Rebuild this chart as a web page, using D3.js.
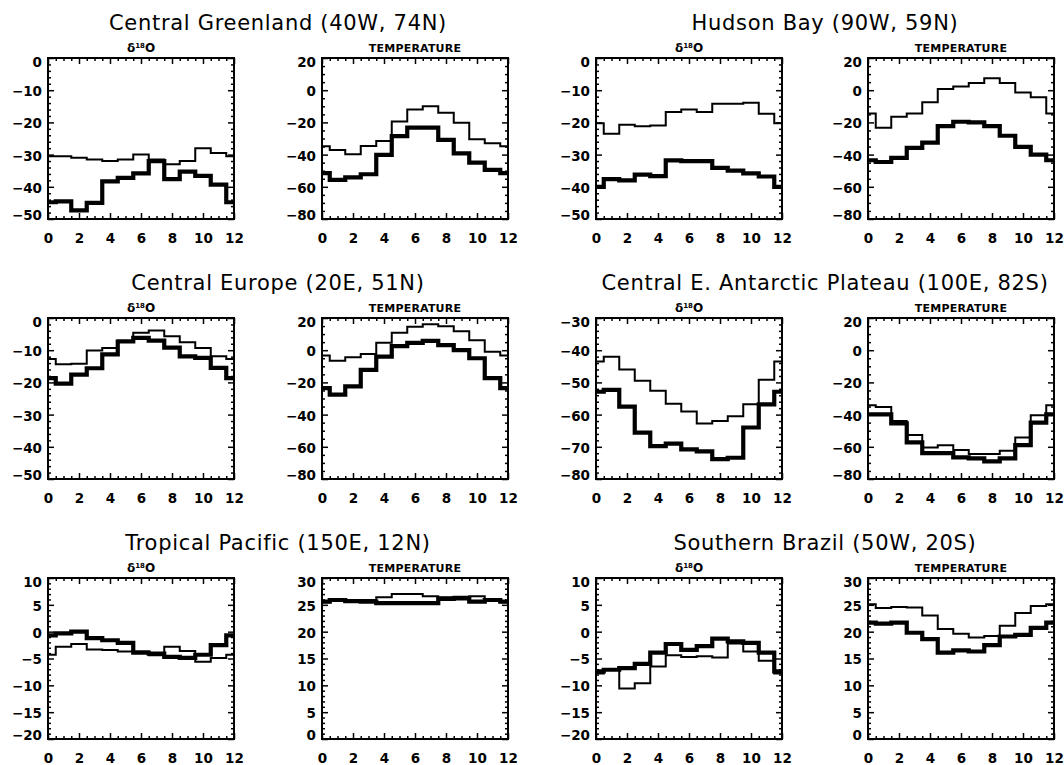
<!DOCTYPE html>
<html>
<head>
<meta charset="utf-8">
<script src="https://cdn.jsdelivr.net/npm/d3@7"></script>
<style>
  body { margin: 0; background: #fff; }
  svg { display: block; }
  .title { font-family: "DejaVu Sans", sans-serif; font-size: 21px; letter-spacing: 0.7px; }
  .sub { font-family: "DejaVu Sans", sans-serif; font-weight: bold; font-size: 11px; }
  .tick text { font-family: "DejaVu Sans", sans-serif; font-weight: bold; font-size: 13.5px; fill: #000; }
  .tick line { stroke: #000; stroke-width: 1.5; }
</style>
</head>
<body>
<svg id="chart" width="1064" height="765"></svg>
<script>
// months: x = 0..12, value at x=0 is December (wraps round)
const xTicks = [0, 2, 4, 6, 8, 10, 12];

const d18oDomainHigh = [-50, 0];
const d18oTicksHigh = [0, -10, -20, -30, -40, -50];
const d18oDomainPolar = [-80, -30];
const d18oTicksPolar = [-30, -40, -50, -60, -70, -80];
const d18oDomainLow = [-20, 10];
const d18oTicksLow = [10, 5, 0, -5, -10, -15, -20];
const tempDomainCold = [-80, 20];
const tempTicksCold = [20, 0, -20, -40, -60, -80];
const tempDomainWarm = [0, 30];
const tempTicksWarm = [30, 25, 20, 15, 10, 5, 0];

// monthly values Jan..Dec, thin and thick curves
const greenlandD18oThin = [-30.5, -31, -31.5, -32, -31.5, -30, -31.5, -33, -32, -28, -29.5, -30.5];
const greenlandD18oThick = [-44.5, -47.3, -45, -38.3, -37.2, -35.8, -32, -37.6, -35.3, -36.6, -39.3, -44.8];
const greenlandTempThin = [-37.1, -39.8, -34.6, -31.5, -19.4, -12, -9.9, -14, -20.2, -30.5, -33, -34.8];
const greenlandTempThick = [-55.7, -54.2, -52.2, -40.2, -28.5, -23.3, -23.3, -30.9, -39.2, -45, -49.5, -51.5];

const hudsonD18oThin = [-23.5, -20.7, -21.2, -21, -16.8, -16, -16.8, -14.2, -14.2, -13.9, -17.3, -20.3];
const hudsonD18oThick = [-37.6, -38, -36.2, -36.7, -31.8, -32, -32, -34.1, -35, -35.8, -36.8, -40];
const hudsonTempThin = [-23.3, -16.5, -14.4, -7.5, 0.8, 2.3, 4.4, 7.5, 4.4, -1.5, -4.4, -14.4];
const hudsonTempThick = [-44.6, -42, -35.8, -32.5, -22.3, -19.6, -20, -22.3, -28.3, -35.2, -40, -43.5];

const europeD18oThin = [-14.4, -14.2, -10.1, -9.3, -7, -4.6, -3.9, -5.7, -7.5, -9.3, -11.9, -12.7];
const europeD18oThick = [-20.4, -17.6, -15.6, -11.3, -7.3, -6.2, -7, -9.2, -11.9, -12.4, -15.5, -18.7];
const europeTempThin = [-6.5, -4.4, -2.4, 4.6, 10.8, 14.5, 16.1, 14.9, 11.8, 6.2, -0.9, -3.3];
const europeTempThick = [-27.6, -22.5, -12.2, -4, 2.5, 4.6, 5.8, 3.2, 0, -5, -17.4, -23.5];

const antarcticD18oThin = [-42, -46, -49.5, -52.6, -56.6, -59, -62.8, -62, -60.5, -56.8, -49.2, -43.5];
const antarcticD18oThick = [-52.3, -57.5, -65.6, -69.8, -69, -70.8, -71.4, -73.8, -73.4, -64, -56.8, -52.9];
const antarcticTempThin = [-35.3, -43.9, -52.6, -60.4, -59, -62, -64.5, -64.5, -62.4, -54.2, -40.4, -34.2];
const antarcticTempThick = [-39.8, -45.4, -57.3, -63.9, -63.9, -66.6, -67.2, -69, -67.2, -59, -45, -39.8];

const pacificD18oThin = [-2.8, -2.3, -3.3, -3.4, -3.7, -3.7, -4.4, -2.8, -3.6, -5.6, -4.9, -4.3];
const pacificD18oThick = [-0.3, 0, -1.2, -1.6, -2.1, -3.9, -4.1, -4.7, -4.9, -4.3, -2.5, -0.7];
const pacificTempThin = [25.9, 25.8, 25.9, 26.4, 27, 27, 26.6, 26.4, 26.5, 26.6, 26.0, 25.5];
const pacificTempThick = [25.9, 25.7, 25.6, 25.3, 25.3, 25.3, 25.3, 26.1, 26.2, 25.6, 25.9, 25.6];

const brazilD18oThin = [-7.1, -10.6, -9.6, -6.5, -4.4, -4.7, -4.6, -4.8, -2.2, -3.7, -5.4, -7.8];
const brazilD18oThick = [-7.1, -6.8, -6, -3.9, -2.3, -3.4, -2.7, -1.3, -1.8, -2.1, -3.9, -7.4];
const brazilTempThin = [24.4, 24.6, 24.5, 23.0, 20.5, 19.6, 18.9, 19.2, 21.1, 23.5, 24.8, 25.1];
const brazilTempThick = [21.5, 21.7, 19.8, 18.6, 16.1, 16.5, 16.3, 17.5, 19.1, 19.4, 20.7, 21.7];

const regions = [
  { name: "Central Greenland (40W, 74N)",
    d18o: { domain: d18oDomainHigh, ticks: d18oTicksHigh, minor: 2, thin: greenlandD18oThin, thick: greenlandD18oThick },
    temp: { domain: tempDomainCold, ticks: tempTicksCold, minor: 5, thin: greenlandTempThin, thick: greenlandTempThick } },
  { name: "Hudson Bay (90W, 59N)",
    d18o: { domain: d18oDomainHigh, ticks: d18oTicksHigh, minor: 2, thin: hudsonD18oThin, thick: hudsonD18oThick },
    temp: { domain: tempDomainCold, ticks: tempTicksCold, minor: 5, thin: hudsonTempThin, thick: hudsonTempThick } },
  { name: "Central Europe (20E, 51N)",
    d18o: { domain: d18oDomainHigh, ticks: d18oTicksHigh, minor: 2, thin: europeD18oThin, thick: europeD18oThick },
    temp: { domain: tempDomainCold, ticks: tempTicksCold, minor: 5, thin: europeTempThin, thick: europeTempThick } },
  { name: "Central E. Antarctic Plateau (100E, 82S)",
    d18o: { domain: d18oDomainPolar, ticks: d18oTicksPolar, minor: 2, thin: antarcticD18oThin, thick: antarcticD18oThick },
    temp: { domain: tempDomainCold, ticks: tempTicksCold, minor: 5, thin: antarcticTempThin, thick: antarcticTempThick } },
  { name: "Tropical Pacific (150E, 12N)",
    d18o: { domain: d18oDomainLow, ticks: d18oTicksLow, minor: 1, thin: pacificD18oThin, thick: pacificD18oThick },
    temp: { domain: tempDomainWarm, ticks: tempTicksWarm, minor: 1, thin: pacificTempThin, thick: pacificTempThick } },
  { name: "Southern Brazil (50W, 20S)",
    d18o: { domain: d18oDomainLow, ticks: d18oTicksLow, minor: 1, thin: brazilD18oThin, thick: brazilD18oThick },
    temp: { domain: tempDomainWarm, ticks: tempTicksWarm, minor: 1, thin: brazilTempThin, thick: brazilTempThick } }
];

const colLeft = [48, 322, 596, 868];
const rowTop = [58, 318, 578];
const panelW = 186;
const panelH = 161;

const svg = d3.select("#chart");

function drawPanel(x0, y0, spec, kind) {
  const g = svg.append("g").attr("transform", `translate(${x0},${y0})`);
  const x = d3.scaleLinear().domain([0, 12]).range([0, panelW]);
  const y = d3.scaleLinear().domain(spec.domain).range([panelH, 0]);

  const xMinor = d3.range(0, 12.01, 0.5).filter(v => !xTicks.includes(v));
  const yMinor = d3.range(spec.domain[0], spec.domain[1] + 0.01, spec.minor).filter(v => !spec.ticks.includes(v));

  // major ticks with labels (bottom, left), inward
  g.append("g").attr("transform", `translate(0,${panelH})`)
    .call(d3.axisBottom(x).tickValues(xTicks).tickSize(-6).tickPadding(14))
    .call(a => a.select(".domain").remove());
  const yAx = g.append("g")
    .call(d3.axisLeft(y).tickValues(spec.ticks).tickSize(-6).tickPadding(6))
    .call(a => a.select(".domain").remove());
  yAx.selectAll(".tick text")
    .attr("dy", d => d === spec.domain[1] ? "0.62em" : d === spec.domain[0] ? "0.05em" : "0.4em");

  // ticks on top and right, no labels
  g.append("g")
    .call(d3.axisTop(x).tickValues(xTicks).tickSize(-6).tickFormat(""))
    .call(a => a.select(".domain").remove());
  g.append("g").attr("transform", `translate(${panelW},0)`)
    .call(d3.axisRight(y).tickValues(spec.ticks).tickSize(-6).tickFormat(""))
    .call(a => a.select(".domain").remove());

  // minor ticks
  [[d3.axisBottom(x), xMinor, `translate(0,${panelH})`],
   [d3.axisTop(x), xMinor, null],
   [d3.axisLeft(y), yMinor, null],
   [d3.axisRight(y), yMinor, `translate(${panelW},0)`]].forEach(([ax, vals, tr]) => {
    const m = g.append("g").call(ax.tickValues(vals).tickSize(-3).tickFormat(""));
    if (tr) m.attr("transform", tr);
    m.select(".domain").remove();
  });

  // frame
  g.append("rect").attr("width", panelW).attr("height", panelH)
    .attr("fill", "none").attr("stroke", "#000").attr("stroke-width", 2);

  // step curves (histogram style)
  const line = d3.line().x((d, i) => x(i)).y(d => y(d)).curve(d3.curveStep);
  const wrap = v => [v[11]].concat(v);
  g.append("path").datum(wrap(spec.thin)).attr("d", line)
    .attr("fill", "none").attr("stroke", "#000").attr("stroke-width", 2);
  g.append("path").datum(wrap(spec.thick)).attr("d", line)
    .attr("fill", "none").attr("stroke", "#000").attr("stroke-width", 4.2);

  // label above
  const lab = g.append("text").attr("class", "sub")
    .attr("x", panelW / 2).attr("y", -6).attr("text-anchor", "middle");
  if (kind === "d18o") {
    lab.append("tspan").text("δ").style("font-size", "12px");
    lab.append("tspan").text("18").style("font-size", "7px").attr("dy", -4);
    lab.append("tspan").text("O").style("font-size", "12px").attr("dy", 4);
  } else {
    lab.text("TEMPERATURE").style("letter-spacing", "0.2px");
  }
}

regions.forEach((r, i) => {
  const row = Math.floor(i / 2);
  const c = (i % 2) * 2;
  const top = rowTop[row];
  drawPanel(colLeft[c], top, r.d18o, "d18o");
  drawPanel(colLeft[c + 1], top, r.temp, "temp");
  svg.append("text").attr("class", "title")
    .attr("x", (colLeft[c] + colLeft[c + 1] + panelW) / 2)
    .attr("y", top - 28)
    .attr("text-anchor", "middle")
    .text(r.name);
});
</script>
</body>
</html>
